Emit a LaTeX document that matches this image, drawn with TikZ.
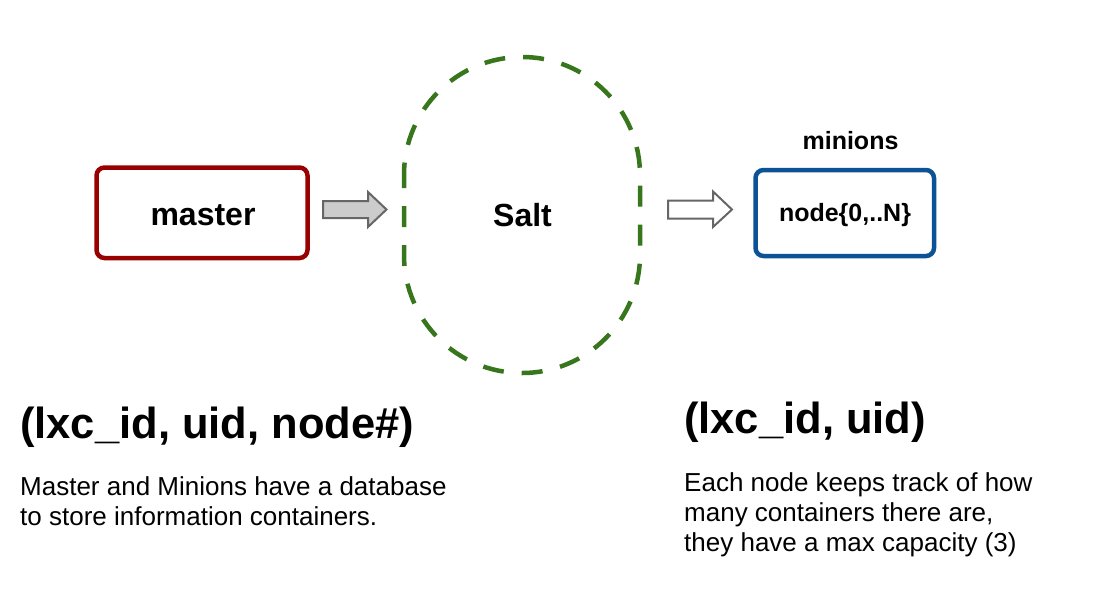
\documentclass[tikz,border=0pt]{standalone}
\usepackage{fontspec}
\setmainfont{Liberation Sans}
\definecolor{mred}{HTML}{990000}
\definecolor{mblue}{HTML}{0B5394}
\definecolor{mgreen}{HTML}{38761D}
\definecolor{agray}{HTML}{666666}
\definecolor{afill}{HTML}{CCCCCC}
\tikzset{
  boxstyle/.style={line width=4.5pt, rounded corners=8pt},
  blockarrow/.style={draw=agray, line width=2pt, line join=miter},
  lbl/.style={inner sep=0pt, anchor=base, font=\bfseries\fontsize{32}{36}\selectfont},
  smalllbl/.style={inner sep=0pt, anchor=base, font=\bfseries\fontsize{25}{30}\selectfont},
  heading/.style={inner sep=0pt, anchor=base west, font=\bfseries\fontsize{43.5}{50}\selectfont},
  para/.style={inner sep=0pt, anchor=base west, font=\fontsize{26}{30}\selectfont},
}
\begin{document}
\begin{tikzpicture}[x=1pt,y=-1pt]
\useasboundingbox (0,0) rectangle (1104,606);
% master box
\draw[boxstyle, draw=mred] (96.5,167.5) rectangle (307.5,258);
\node[lbl] (master) at (203,225) {master};
% arrow 1
\draw[blockarrow, fill=afill] (323,201) -- (368,201) -- (368,192) -- (386.5,209.5) -- (368,227) -- (368,218) -- (323,218) -- cycle;
% Salt
\draw[draw=mgreen, line width=4.5pt, dash pattern=on 21pt off 18pt, dash phase=8pt, rounded corners=118pt] (404,57) rectangle (640,373);
\node[lbl] (salt) at (522.5,226) {Salt};
% arrow 2
\draw[blockarrow, fill=white] (668,200.5) -- (713,200.5) -- (713,191.5) -- (732,209.5) -- (713,227) -- (713,218.5) -- (668,218.5) -- cycle;
% minions box
\draw[boxstyle, draw=mblue] (755.5,170) rectangle (934,256);
\node[smalllbl] (nodes) at (845,221.7) {node\{0,..N\}};
\node[smalllbl] (minions) at (850.5,149) {minions};
% texts
\node[heading] (h1) at (20,438.5) {(lxc\_id, uid, node\#)};
\node[para] (p1a) at (20,495) {Master and Minions have a database};
\node[para] (p1b) at (20,525.5) {to store information containers.};
\node[heading] (h2) at (684,433.5) {(lxc\_id, uid)};
\node[para] (p2a) at (684,491) {Each node keeps track of how};
\node[para] (p2b) at (684,521) {many containers there are,};
\node[para] (p2c) at (684,551) {they have a max capacity (3)};
\end{tikzpicture}
\end{document}
